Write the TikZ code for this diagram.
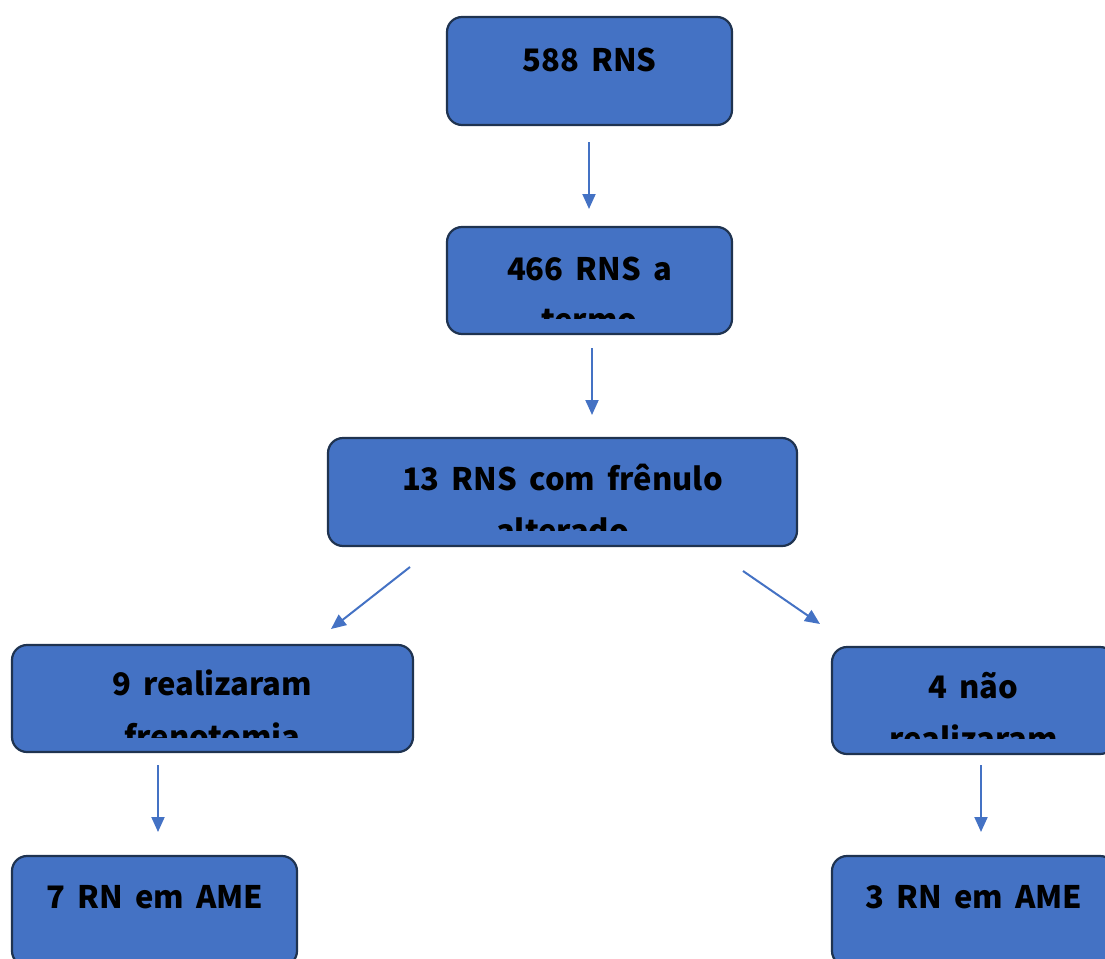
\documentclass[tikz,border=0pt]{standalone}
\usepackage{fontspec}
\setmainfont{Noto Sans CJK JP}[WordSpace=1.7]
\usetikzlibrary{arrows.meta}
\definecolor{boxblue}{HTML}{4472C4}
\definecolor{boxline}{HTML}{1F3350}
\definecolor{arrowblue}{HTML}{4472C4}
\begin{document}
\begin{tikzpicture}[x=1pt,y=-1pt,
  box/.style={draw=boxline, fill=boxblue, line width=2.2pt, rounded corners=15pt, inner sep=0pt},
  lbl/.style={anchor=base, font=\bfseries\fontsize{31}{38}\selectfont, inner sep=0pt, text=black},
  arr/.style={-{Triangle[length=15pt,width=13pt]}, draw=arrowblue, line width=2pt}]
\useasboundingbox (0,0) rectangle (1105,958);
\clip (0,0) rectangle (1105,958);
% boxes
\node[box, minimum width=285pt, minimum height=108pt] (b1) at (589.5,71) {};
\node[box, minimum width=285pt, minimum height=107pt] (b2) at (589.5,280.5) {};
\node[box, minimum width=469pt, minimum height=108pt] (b3) at (562.5,492) {};
\node[box, minimum width=401pt, minimum height=107pt] (b4) at (212.5,698.5) {};
\node[box, minimum width=283pt, minimum height=107pt] (b5) at (973.5,700.5) {};
\node[box, minimum width=285pt, minimum height=110pt] (b6) at (154.5,911) {};
\node[box, minimum width=283pt, minimum height=110pt] (b7) at (973.5,911) {};
% first lines
\node[lbl] (t1) at (589.5,71) {588 RNS};
\node[lbl] (t2) at (589.5,280) {466 RNS a};
\node[lbl] (t3) at (562.5,490) {13 RNS com frênulo};
\node[lbl] (t4) at (212.5,695) {9 realizaram};
\node[lbl] (t5) at (973.5,698) {4 não};
\node[lbl] (t6) at (155,908) {7 RN em AME};
\node[lbl] (t7) at (974,908) {3 RN em AME};
% clipped second lines
\begin{scope}
\clip (447,227) rectangle (732,318);
\node[lbl] (t2b) at (589.5,331) {termo};
\end{scope}
\begin{scope}
\clip (328,438) rectangle (797,530);
\node[lbl] (t3b) at (562.5,542) {alterado};
\end{scope}
\begin{scope}
\clip (12,645) rectangle (413,737);
\node[lbl] (t4b) at (212.5,748) {frenotomia};
\end{scope}
\begin{scope}
\clip (832,647) rectangle (1115,738);
\node[lbl] (t5b) at (973.5,750) {realizaram};
\end{scope}
% arrows
\coordinate (a1s) at (589,142); \coordinate (a1e) at (589,209);
\coordinate (a2s) at (592,348); \coordinate (a2e) at (592,415);
\coordinate (a3s) at (410,567); \coordinate (a3e) at (331,629);
\coordinate (a4s) at (743,571); \coordinate (a4e) at (820,624);
\coordinate (a5s) at (158,765); \coordinate (a5e) at (158,832);
\coordinate (a6s) at (981,765); \coordinate (a6e) at (981,832);
\draw[arr] (a1s) -- (a1e);
\draw[arr] (a2s) -- (a2e);
\draw[arr] (a3s) -- (a3e);
\draw[arr] (a4s) -- (a4e);
\draw[arr] (a5s) -- (a5e);
\draw[arr] (a6s) -- (a6e);
\end{tikzpicture}
\end{document}
